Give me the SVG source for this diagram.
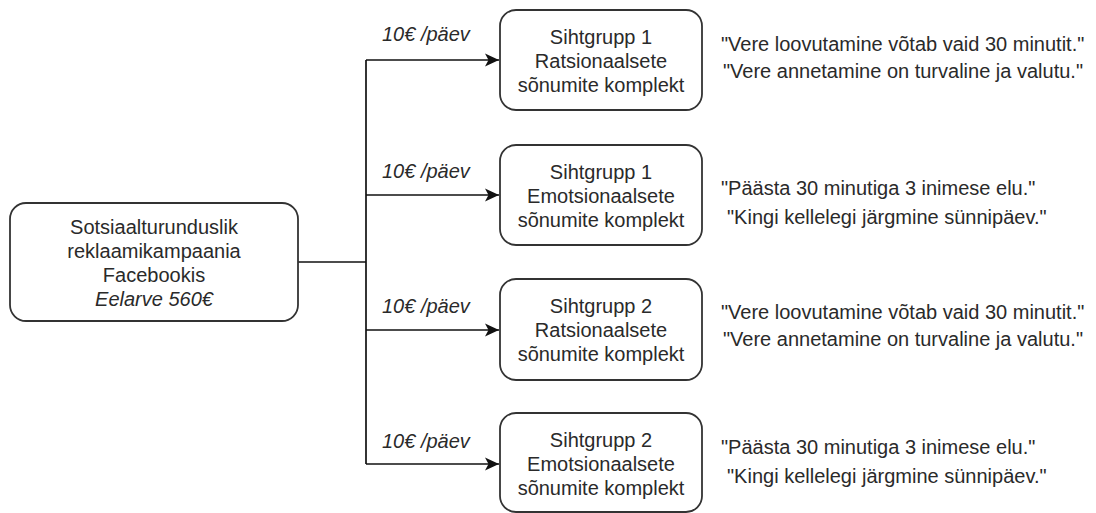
<svg xmlns="http://www.w3.org/2000/svg" width="1096" height="513" viewBox="0 0 1096 513">
<style>
.box{fill:#fff;stroke:#333;stroke-width:1.8}
.t{font-family:"Liberation Sans",Arial,sans-serif;font-size:20px;fill:#2a2a2a}
.c{text-anchor:middle}
.i{font-style:italic}
.ln{fill:none;stroke:#111;stroke-width:1.7}
</style>
<defs>
<marker id="ah" markerWidth="16" markerHeight="14" refX="14" refY="7" orient="auto" markerUnits="userSpaceOnUse">
<path d="M0,0.5 L14,7 L0,13.5 L3.5,7 Z" fill="#111"/>
</marker>
</defs>
<rect width="1096" height="513" fill="#fff"/>
<g id="connectors">
<path class="ln" d="M298,262 H366"/>
<path class="ln" d="M366,60 V464"/>
<path class="ln" d="M366,60 H499" marker-end="url(#ah)"/>
<path class="ln" d="M366,195 H499" marker-end="url(#ah)"/>
<path class="ln" d="M366,330 H499" marker-end="url(#ah)"/>
<path class="ln" d="M366,464 H499" marker-end="url(#ah)"/>
<text class="t i" x="382" y="41">10€ /päev</text>
<text class="t i" x="382" y="178">10€ /päev</text>
<text class="t i" x="382" y="313">10€ /päev</text>
<text class="t i" x="382" y="448">10€ /päev</text>
</g>
<g id="campaign">
<rect class="box" x="10" y="203" width="288" height="118" rx="16"/>
<text class="t c" x="154" y="234">Sotsiaalturunduslik</text>
<text class="t c" x="154" y="258">reklaamikampaania</text>
<text class="t c" x="154" y="282">Facebookis</text>
<text class="t c i" x="154" y="306">Eelarve 560€</text>
</g>
<g id="sg1-rats">
<rect class="box" x="500" y="10" width="202" height="100" rx="16"/>
<text class="t c" x="601" y="44">Sihtgrupp 1</text>
<text class="t c" x="601" y="68">Ratsionaalsete</text>
<text class="t c" x="601" y="92">sõnumite komplekt</text>
</g>
<g id="sg1-emo">
<rect class="box" x="500" y="145" width="202" height="100" rx="16"/>
<text class="t c" x="601" y="179">Sihtgrupp 1</text>
<text class="t c" x="601" y="203">Emotsionaalsete</text>
<text class="t c" x="601" y="227">sõnumite komplekt</text>
</g>
<g id="sg2-rats">
<rect class="box" x="500" y="279" width="202" height="101" rx="16"/>
<text class="t c" x="601" y="313">Sihtgrupp 2</text>
<text class="t c" x="601" y="337">Ratsionaalsete</text>
<text class="t c" x="601" y="361">sõnumite komplekt</text>
</g>
<g id="sg2-emo">
<rect class="box" x="500" y="413" width="202" height="99" rx="16"/>
<text class="t c" x="601" y="447">Sihtgrupp 2</text>
<text class="t c" x="601" y="471">Emotsionaalsete</text>
<text class="t c" x="601" y="495">sõnumite komplekt</text>
</g>
<g id="quotes">
<text class="t" x="721" y="51">"Vere loovutamine võtab vaid 30 minutit."</text>
<text class="t" x="723" y="78">"Vere annetamine on turvaline ja valutu."</text>
<text class="t" x="721" y="195">"Päästa 30 minutiga 3 inimese elu."</text>
<text class="t" x="727" y="224">"Kingi kellelegi järgmine sünnipäev."</text>
<text class="t" x="721" y="319">"Vere loovutamine võtab vaid 30 minutit."</text>
<text class="t" x="723" y="346">"Vere annetamine on turvaline ja valutu."</text>
<text class="t" x="721" y="454">"Päästa 30 minutiga 3 inimese elu."</text>
<text class="t" x="727" y="483">"Kingi kellelegi järgmine sünnipäev."</text>
</g>
</svg>
